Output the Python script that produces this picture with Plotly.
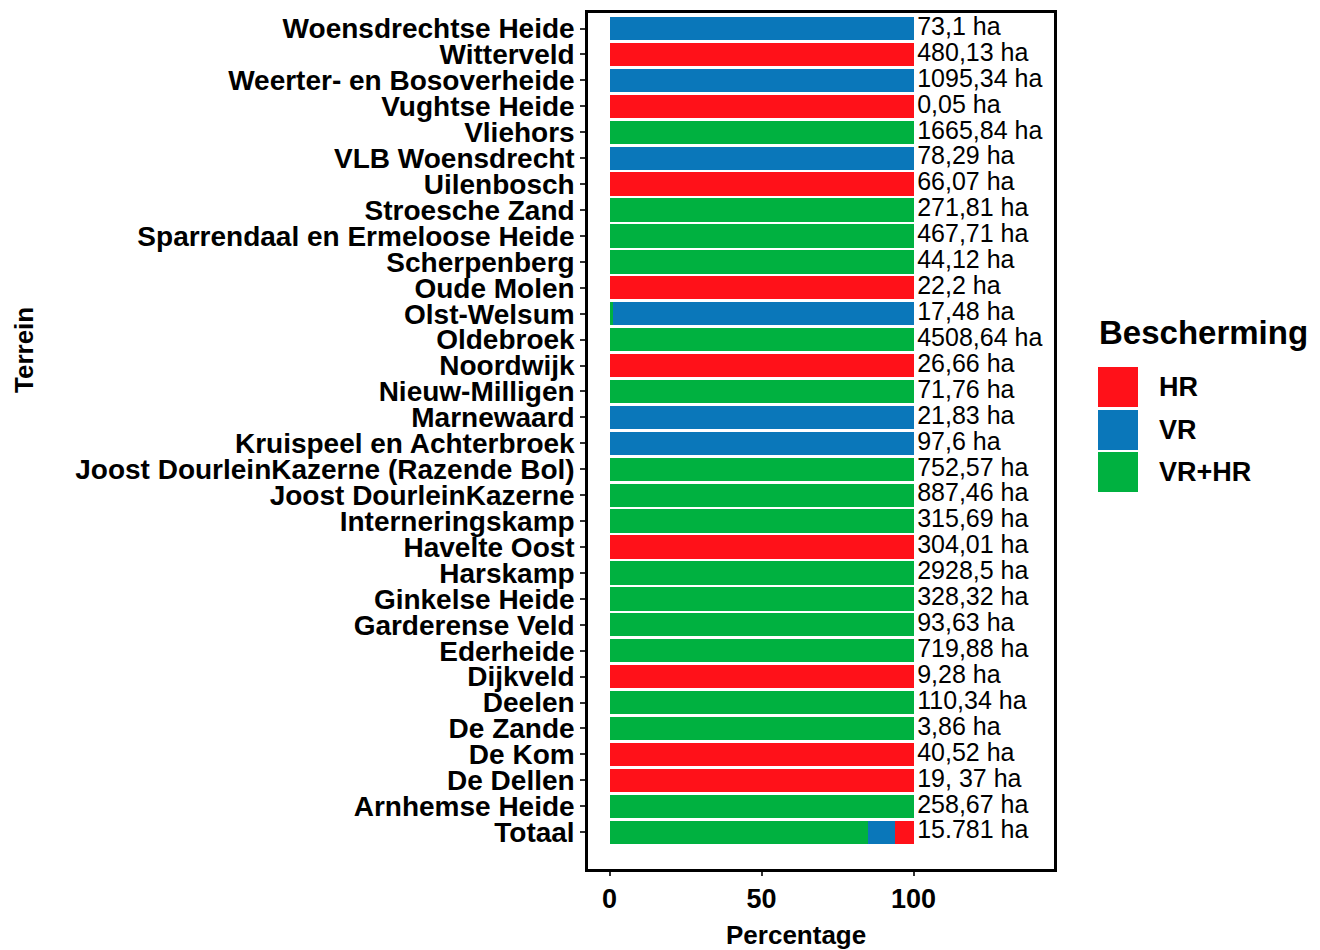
import plotly.graph_objects as go

# Categories from top to bottom
terreinen = [
    "Woensdrechtse Heide", "Witterveld", "Weerter- en Bosoverheide", "Vughtse Heide",
    "Vliehors", "VLB Woensdrecht", "Uilenbosch", "Stroesche Zand",
    "Sparrendaal en Ermeloose Heide", "Scherpenberg", "Oude Molen", "Olst-Welsum",
    "Oldebroek", "Noordwijk", "Nieuw-Milligen", "Marnewaard", "Kruispeel en Achterbroek",
    "Joost DourleinKazerne (Razende Bol)", "Joost DourleinKazerne", "Interneringskamp",
    "Havelte Oost", "Harskamp", "Ginkelse Heide", "Garderense Veld", "Ederheide",
    "Dijkveld", "Deelen", "De Zande", "De Kom", "De Dellen", "Arnhemse Heide", "Totaal",
]
oppervlakte = [
    "73,1 ha", "480,13 ha", "1095,34 ha", "0,05 ha", "1665,84 ha", "78,29 ha", "66,07 ha",
    "271,81 ha", "467,71 ha", "44,12 ha", "22,2 ha", "17,48 ha", "4508,64 ha", "26,66 ha",
    "71,76 ha", "21,83 ha", "97,6 ha", "752,57 ha", "887,46 ha", "315,69 ha", "304,01 ha",
    "2928,5 ha", "328,32 ha", "93,63 ha", "719,88 ha", "9,28 ha", "110,34 ha", "3,86 ha",
    "40,52 ha", "19, 37 ha", "258,67 ha", "15.781 ha",
]
pct_vrhr = [0, 0, 0, 0, 100, 0, 0, 100, 100, 100, 0, 1.1, 100, 0, 100, 0, 0, 100, 100, 100,
            0, 100, 100, 100, 100, 0, 100, 100, 0, 0, 100, 85.1]
pct_vr = [100, 0, 100, 0, 0, 100, 0, 0, 0, 0, 0, 98.9, 0, 0, 0, 100, 100, 0, 0, 0,
          0, 0, 0, 0, 0, 0, 0, 0, 0, 0, 0, 8.8]
pct_hr = [0, 100, 0, 100, 0, 0, 100, 0, 0, 0, 100, 0, 0, 100, 0, 0, 0, 0, 0, 0,
          100, 0, 0, 0, 0, 100, 0, 0, 100, 100, 0, 6.1]
label_x = [101.2] * len(terreinen)

groepen = ["HR", "VR", "VR+HR"]
kleuren = {"HR": "#FF1119", "VR": "#0A77BA", "VR+HR": "#00B140"}

W, H = 1320, 950
PL, PR, PT, PB = 588, 1054, 13, 869  # plot area in pixels


def px_x(p):
    return (p - PL) / (PR - PL)


def px_y(p):
    return (PB - p) / (PB - PT)


fig = go.Figure()
for naam, vals in [("VR+HR", pct_vrhr), ("VR", pct_vr), ("HR", pct_hr)]:
    fig.add_trace(go.Bar(
        y=terreinen, x=vals, orientation="h", name=naam,
        marker=dict(color=kleuren[naam], line=dict(width=0)),
        width=0.9, showlegend=False, hoverinfo="x+y",
    ))

fig.add_trace(go.Scatter(
    y=terreinen, x=label_x, mode="text", text=oppervlakte,
    textposition="middle right",
    textfont=dict(family="Liberation Sans, Arial", size=25, color="black"),
    showlegend=False, hoverinfo="skip", cliponaxis=False,
))

n = len(terreinen)
fig.update_layout(
    width=W, height=H,
    barmode="stack",
    plot_bgcolor="white", paper_bgcolor="white",
    margin=dict(l=PL, r=W - PR, t=PT, b=H - PB, autoexpand=False),
    font=dict(family="Liberation Sans, Arial", color="black"),
    xaxis=dict(
        range=[-7.1, 146.2], tickvals=[0, 50, 100], ticktext=["0", "50", "100"],
        showgrid=False, zeroline=False, showline=True, mirror=True,
        linecolor="black", linewidth=2.5,
        ticks="outside", ticklen=4, tickwidth=1.5, tickcolor="#333",
        tickfont=dict(size=27, weight="bold", color="black"),
    ),
    yaxis=dict(
        type="category", categoryorder="array", categoryarray=terreinen[::-1],
        tickmode="array", tickvals=terreinen, ticktext=terreinen,
        range=[-1.42, n - 1 + 0.6],
        showgrid=False, zeroline=False, showline=True, mirror=True,
        linecolor="black", linewidth=2.5,
        ticks="outside", ticklen=5, tickwidth=1.5, tickcolor="#333",
        tickfont=dict(size=28, weight="bold", color="black"),
    ),
)

annotations = [
    dict(text="Percentage", x=px_x(796), y=px_y(935), xref="paper", yref="paper",
         showarrow=False, font=dict(size=26, weight="bold"), xanchor="center", yanchor="middle"),
    dict(text="Terrein", x=px_x(24), y=px_y(350), xref="paper", yref="paper", textangle=-90,
         showarrow=False, font=dict(size=26, weight="bold"), xanchor="center", yanchor="middle"),
    dict(text="Bescherming", x=px_x(1097), y=px_y(332), xref="paper", yref="paper",
         showarrow=False, font=dict(size=33, weight="bold"), xanchor="left", yanchor="middle"),
]
shapes = []
key_top = [367, 410, 452]
for g, top in zip(groepen, key_top):
    shapes.append(dict(type="rect", xref="paper", yref="paper",
                       x0=px_x(1098), x1=px_x(1138), y0=px_y(top), y1=px_y(top + 40),
                       fillcolor=kleuren[g], line=dict(width=0)))
    annotations.append(dict(text=g, x=px_x(1157), y=px_y(top + 20), xref="paper", yref="paper",
                            showarrow=False, font=dict(size=27, weight="bold"),
                            xanchor="left", yanchor="middle"))
fig.update_layout(annotations=annotations, shapes=shapes)

fig.write_html("out.html", config={"displayModeBar": False},
               post_script="document.body.style.margin='0';document.body.style.overflow='hidden';")
